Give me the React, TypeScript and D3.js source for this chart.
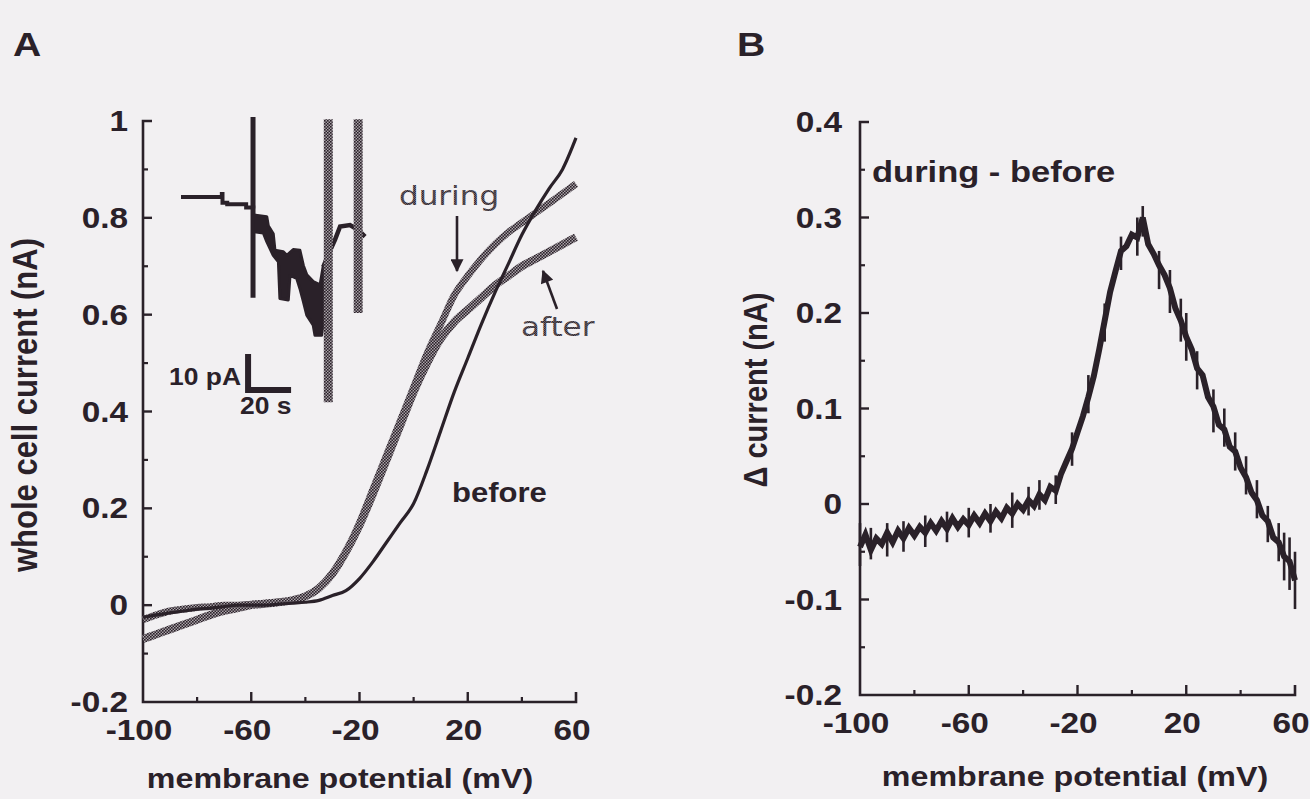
import React from "react";
import * as d3 from "d3";

const W = 1310;
const H = 799;
const INK = "#2a2129";
const BG = "#f2f0f2";
const FONT = "'Liberation Sans', Arial, Helvetica, sans-serif";
const SX = 1.15;

// ---------- Panel A : whole cell current vs membrane potential ----------
const voltageA = [-100, -95, -90, -85, -80, -75, -70, -65, -60, -55, -50, -45, -40, -35, -30, -25, -20, -15, -10, -5, 0, 5, 10, 15, 20, 25, 30, 35, 40, 45, 50, 55, 60];
const beforeA = [-0.025, -0.02, -0.016, -0.012, -0.008, -0.006, -0.003, 0.0, 0.0, 0.0, 0.002, 0.004, 0.006, 0.01, 0.02, 0.03, 0.055, 0.09, 0.13, 0.17, 0.21, 0.28, 0.36, 0.44, 0.51, 0.58, 0.645, 0.705, 0.765, 0.815, 0.86, 0.9, 0.965];
const duringA = [-0.03, -0.02, -0.012, -0.008, -0.005, -0.003, 0.0, 0.0, 0.002, 0.004, 0.006, 0.01, 0.018, 0.035, 0.065, 0.11, 0.17, 0.24, 0.31, 0.38, 0.45, 0.52, 0.58, 0.64, 0.68, 0.715, 0.745, 0.77, 0.79, 0.81, 0.83, 0.85, 0.87];
const afterA = [-0.07, -0.06, -0.05, -0.04, -0.03, -0.02, -0.012, -0.006, 0.0, 0.003, 0.006, 0.01, 0.018, 0.035, 0.065, 0.11, 0.165, 0.23, 0.3, 0.37, 0.44, 0.5, 0.55, 0.585, 0.61, 0.635, 0.66, 0.68, 0.7, 0.715, 0.73, 0.745, 0.76];

const xTickLabels = [-100, -60, -20, 20, 60];
const xMinorTicks = [-80, -40, 0, 40];
const yTicksA = [-0.2, 0, 0.2, 0.4, 0.6, 0.8, 1];
const yMinorA = [-0.1, 0.1, 0.3, 0.5, 0.7, 0.9];

// inset: time course (s, pA)
const insetTime1 = [0, 19, 19.3, 21.5, 30, 30.3, 33.6];
const insetCur1 = [0, 0.8, -1.6, -2.0, -2.0, -2.9, -3.2];
const bandTime = [33.6, 39.9, 40.6, 42.9, 43.7, 47.6, 49.2, 52.2, 55.3, 56.9, 58.5, 61.5, 64.7, 66.2];
const bandUpper = [-5.0, -5.5, -8.0, -10.2, -14.8, -15.2, -16.2, -14.6, -14.8, -19.0, -21.6, -23.5, -24.4, -19.0];
const bandLowerTime = [33.6, 38.3, 39.9, 42.9, 45.3, 46, 49.9, 50.7, 53.8, 55.3, 56.9, 58.5, 61.5, 62.3, 65.4, 66.2];
const bandLower = [-9.6, -10.0, -12.4, -16.2, -18.0, -28.2, -28.6, -21.8, -22.6, -25.4, -29.0, -32.8, -35.6, -38.4, -38.4, -34.6];
const insetTime2 = [66.2, 68.5, 71.6, 74, 78.6, 82.5, 85.6];
const insetCur2 = [-19.4, -16, -11.9, -8.2, -7.8, -9.2, -11];
const solidSpike = { t: 33.5, top: 22.2, bottom: -28 };
const hatchBars = [
  { t: 68.5, top: 21.6, bottom: -57 },
  { t: 82.4, top: 21.6, bottom: -32.2 },
];
const scaleBar = { t: 31.2, i: -53.6, dt: 20, di: 10 };

// ---------- Panel B : during - before ----------
const voltageB = [-100, -98, -96, -94, -92, -90, -88, -86, -84, -82, -80, -78, -76, -74, -72, -70, -68, -66, -64, -62, -60, -58, -56, -54, -52, -50, -48, -46, -44, -42, -40, -38, -36, -34, -32, -30, -28, -26, -24, -22, -20, -18, -16, -14, -12, -10, -8, -6, -4, -2, 0, 2, 4, 6, 8, 10, 12, 14, 16, 18, 20, 22, 24, 26, 28, 30, 32, 34, 36, 38, 40, 42, 44, 46, 48, 50, 52, 54, 56, 58, 60];
const deltaB = [-0.045, -0.032, -0.048, -0.036, -0.042, -0.03, -0.04, -0.028, -0.036, -0.025, -0.033, -0.024, -0.03, -0.02, -0.028, -0.018, -0.026, -0.015, -0.024, -0.016, -0.022, -0.012, -0.02, -0.01, -0.018, -0.008, -0.015, -0.004, -0.01, 0.0, -0.006, 0.004, -0.002, 0.01, 0.004, 0.018, 0.014, 0.032, 0.045, 0.058, 0.075, 0.092, 0.112, 0.134, 0.162, 0.192, 0.222, 0.244, 0.265, 0.27, 0.282, 0.279, 0.3, 0.272, 0.262, 0.25, 0.24, 0.226, 0.205, 0.192, 0.175, 0.162, 0.142, 0.135, 0.112, 0.102, 0.083, 0.078, 0.06, 0.055, 0.038, 0.028, 0.012, 0.004, -0.012, -0.018, -0.035, -0.04, -0.055, -0.06, -0.08];
const spikeV = [-100, -96, -90, -84, -76, -68, -60, -52, -44, -38, -34, -28, -22, -16, -10, -4, 2, 4, 10, 14, 18, 20, 24, 30, 34, 38, 42, 46, 50, 54, 56, 58, 60];
const spikeLo = [-0.065, -0.058, -0.055, -0.05, -0.045, -0.04, -0.035, -0.03, -0.025, -0.012, -0.006, 0.0, 0.04, 0.095, 0.17, 0.245, 0.26, 0.28, 0.225, 0.2, 0.17, 0.15, 0.12, 0.075, 0.06, 0.035, 0.01, -0.015, -0.04, -0.06, -0.08, -0.09, -0.11];
const spikeHi = [-0.02, -0.025, -0.02, -0.018, -0.012, -0.008, -0.004, 0.0, 0.012, 0.018, 0.025, 0.03, 0.075, 0.135, 0.21, 0.28, 0.3, 0.312, 0.265, 0.245, 0.215, 0.2, 0.16, 0.12, 0.1, 0.075, 0.05, 0.025, -0.002, -0.02, -0.03, -0.035, -0.05];
const yTicksB = [-0.2, -0.1, 0, 0.1, 0.2, 0.3, 0.4];
const yMinorB = [-0.15, -0.05, 0.05, 0.15, 0.25, 0.35];

function T({ x, y, size, children, anchor = "start", weight = 700, rotate = 0, sx = SX, fill = INK, family = FONT }: any) {
  return (
    <text
      transform={`translate(${x},${y}) scale(${sx},1) rotate(${rotate})`}
      textAnchor={anchor}
      fontSize={size}
      fontWeight={weight}
      fontFamily={family}
      fill={fill}
    >
      {children}
    </text>
  );
}

function Axes({ x, y, yTicks, yMinor, yFmt, labelGap }: any) {
  const [x0, x1] = x.range();
  const [yb, yt] = y.range();
  const els: any[] = [];
  els.push(<path key="ax" d={`M${x0 + 9},${yt} H${x0} V${yb} H${x1} V${yb - 10}`} fill="none" stroke={INK} strokeWidth={2.6} />);
  yTicks.forEach((v: number, i: number) => {
    if (i === 0 || i === yTicks.length - 1) return;
    els.push(<line key={"yt" + v} x1={x0} x2={x0 + 9} y1={y(v)} y2={y(v)} stroke={INK} strokeWidth={2.4} />);
  });
  yMinor.forEach((v: number) => {
    els.push(<line key={"ym" + v} x1={x0} x2={x0 + 5} y1={y(v)} y2={y(v)} stroke={INK} strokeWidth={2.2} />);
  });
  xTickLabels.forEach((v, i) => {
    if (i === 0 || i === xTickLabels.length - 1) return;
    els.push(<line key={"xt" + v} x1={x(v)} x2={x(v)} y1={yb} y2={yb - 10} stroke={INK} strokeWidth={2.4} />);
  });
  xMinorTicks.forEach((v) => {
    els.push(<line key={"xm" + v} x1={x(v)} x2={x(v)} y1={yb} y2={yb - 5} stroke={INK} strokeWidth={2.2} />);
  });
  yTicks.forEach((v: number) => {
    els.push(
      <T key={"yl" + v} x={x0 - labelGap} y={y(v) + 10} size={29} anchor="end">
        {yFmt(v)}
      </T>
    );
  });
  xTickLabels.forEach((v) => {
    els.push(
      <T key={"xl" + v} x={x(v) - 4} y={yb + 38} size={29} anchor="middle">
        {String(v)}
      </T>
    );
  });
  return <g>{els}</g>;
}

export default function App() {
  // Panel A scales
  const xA = d3.scaleLinear().domain([-100, 60]).range([143, 576]);
  const yA = d3.scaleLinear().domain([-0.2, 1]).range([702, 121]);
  // Panel B scales
  const xB = d3.scaleLinear().domain([-100, 60]).range([860, 1295]);
  const yB = d3.scaleLinear().domain([-0.2, 0.4]).range([695, 122]);
  // inset scales
  const xI = d3.scaleLinear().domain([0, 20]).range([181, 224]);
  const yI = d3.scaleLinear().domain([0, -10]).range([197, 233]);

  const lineA = (vals: number[]) =>
    d3.line<number>().x((_, i) => xA(voltageA[i])).y((d) => yA(d)).curve(d3.curveMonotoneX)(vals) as string;
  const lineB = d3.line<number>().x((_, i) => xB(voltageB[i])).y((d) => yB(d))(deltaB) as string;

  const inset1 = d3.line<number>().x((_, i) => xI(insetTime1[i])).y((d) => yI(d)).curve(d3.curveStepAfter)(insetCur1) as string;
  const inset2 = d3.line<number>().x((_, i) => xI(insetTime2[i])).y((d) => yI(d))(insetCur2) as string;
  const bandPts: [number, number][] = [
    ...bandTime.map((t, i) => [xI(t), yI(bandUpper[i])] as [number, number]),
    ...bandLowerTime.map((t, i) => [xI(t), yI(bandLower[i])] as [number, number]).reverse(),
  ];
  const band = "M" + bandPts.map((p) => p.join(",")).join("L") + "Z";

  const fmtA = (v: number) => (v === 1 ? "1" : v === 0 ? "0" : d3.format(".1f")(v).replace("−", "-"));
  const fmtB = (v: number) => (v === 0 ? "0" : d3.format(".1f")(v).replace("−", "-"));

  return (
    <svg width={W} height={H} style={{ position: "absolute", left: 0, top: 0, display: "block" }}>
      <defs>
        <pattern id="checker" width={3} height={3} patternUnits="userSpaceOnUse">
          <rect width={3} height={3} fill="#aaa3a9" />
          <rect x={0} y={0} width={1.6} height={1.6} fill={INK} />
          <rect x={1.5} y={1.5} width={1.6} height={1.6} fill={INK} />
        </pattern>
        <pattern id="checkerText" width={2} height={2} patternUnits="userSpaceOnUse">
          <rect width={2} height={2} fill="#6f686e" />
          <rect x={0} y={0} width={1} height={1} fill={INK} />
          <rect x={1} y={1} width={1} height={1} fill={INK} />
        </pattern>
        <marker id="arrowHead" viewBox="0 0 10 10" refX={9} refY={5} markerWidth={5.5} markerHeight={5} orient="auto">
          <path d="M0,0 L10,5 L0,10 Z" fill={INK} />
        </marker>
      </defs>
      <rect width={W} height={H} fill={BG} />

      {/* Panel labels */}
      <T x={13} y={56} size={34}>A</T>
      <T x={737} y={56} size={34}>B</T>

      {/* ---------- Panel A ---------- */}
      <Axes x={xA} y={yA} yTicks={yTicksA} yMinor={yMinorA} yFmt={fmtA} labelGap={15} />
      <T x={340} y={788} size={28} anchor="middle">membrane potential (mV)</T>
      <T x={37} y={405} size={31} anchor="middle" rotate={-90}>whole cell current (nA)</T>

      {/* inset trace */}
      <path d={inset1} fill="none" stroke={INK} strokeWidth={4} />
      <line x1={xI(solidSpike.t)} x2={xI(solidSpike.t)} y1={yI(solidSpike.top)} y2={yI(solidSpike.bottom)} stroke={INK} strokeWidth={5} />
      <path d={band} fill={INK} stroke={INK} strokeWidth={3} strokeLinejoin="round" />
      <path d={inset2} fill="none" stroke={INK} strokeWidth={4.5} />
      {hatchBars.map((b, i) => (
        <line key={i} x1={xI(b.t)} x2={xI(b.t)} y1={yI(b.top)} y2={yI(b.bottom)} stroke="url(#checker)" strokeWidth={9} />
      ))}
      {/* scale bar */}
      <path
        d={`M${xI(scaleBar.t)},${yI(scaleBar.i + scaleBar.di)} V${yI(scaleBar.i)} H${xI(scaleBar.t + scaleBar.dt)}`}
        fill="none"
        stroke={INK}
        strokeWidth={6}
      />
      <T x={xI(scaleBar.t) - 7} y={yI(scaleBar.i) - 5} size={23} anchor="end">10 pA</T>
      <T x={xI(scaleBar.t) - 8} y={yI(scaleBar.i) + 24} size={23}>20 s</T>

      {/* IV curves */}
      <path d={lineA(afterA)} fill="none" stroke="url(#checker)" strokeWidth={8} />
      <path d={lineA(duringA)} fill="none" stroke="url(#checker)" strokeWidth={7} />
      <path d={lineA(beforeA)} fill="none" stroke={INK} strokeWidth={3.2} strokeLinejoin="round" />

      <T x={452} y={502} size={27}>before</T>
      <T x={399} y={205} size={27} weight={400} family="'DejaVu Sans', sans-serif" fill="url(#checkerText)">during</T>
      <line x1={457} y1={216} x2={457} y2={271} stroke={INK} strokeWidth={2.6} markerEnd="url(#arrowHead)" />
      <T x={521} y={336} size={27} weight={400} family="'DejaVu Sans', sans-serif" fill="url(#checkerText)">after</T>
      <line x1={557} y1={309} x2={543} y2={271} stroke={INK} strokeWidth={2.6} markerEnd="url(#arrowHead)" />

      {/* ---------- Panel B ---------- */}
      <Axes x={xB} y={yB} yTicks={yTicksB} yMinor={yMinorB} yFmt={fmtB} labelGap={18} />
      <T x={1075} y={786} size={28} anchor="middle">membrane potential (mV)</T>
      <T x={767} y={390} size={29} anchor="middle" rotate={-90}>Δ current (nA)</T>
      <T x={872} y={182} size={30}>during - before</T>

      {spikeV.map((v, i) => (
        <line key={i} x1={xB(v)} x2={xB(v)} y1={yB(spikeLo[i])} y2={yB(spikeHi[i])} stroke={INK} strokeWidth={2.6} />
      ))}
      <path d={lineB} fill="none" stroke={INK} strokeWidth={6} strokeLinejoin="miter" />
    </svg>
  );
}
